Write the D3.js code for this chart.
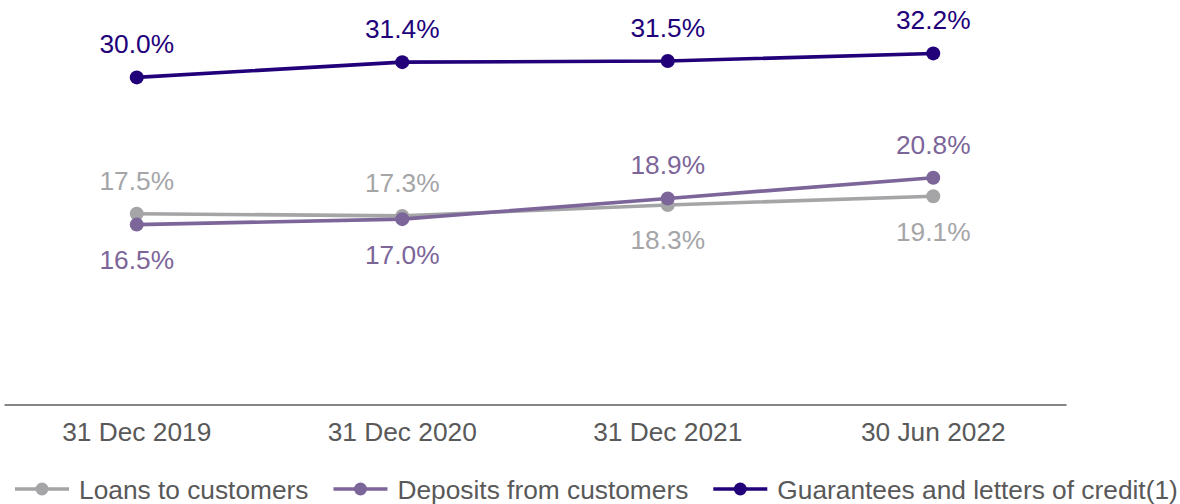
<!DOCTYPE html>
<html>
<head>
<meta charset="utf-8">
<script src="https://cdn.jsdelivr.net/npm/d3@7"></script>
<style>
  html, body { margin: 0; padding: 0; background: #ffffff; }
  svg { display: block; font-family: "Liberation Sans", Arial, sans-serif; }
</style>
</head>
<body>
<svg id="chart" width="1180" height="504"></svg>
<script>
const categories = ["31 Dec 2019", "31 Dec 2020", "31 Dec 2021", "30 Jun 2022"];
const seriesNames = ["Loans to customers", "Deposits from customers", "Guarantees and letters of credit(1)"];
const loans = [17.5, 17.3, 18.3, 19.1];
const deposits = [16.5, 17.0, 18.9, 20.8];
const guarantees = [30.0, 31.4, 31.5, 32.2];
const seriesColors = ["#a5a5a8", "#7c6599", "#21007a"];

const series = [loans, deposits, guarantees].map((vals, i) => ({
  name: seriesNames[i], color: seriesColors[i], values: vals
}));

const svg = d3.select("#chart");
const FS = "26.3px";

const x = d3.scaleBand().domain(categories).range([4, 1066]).padding(0);
const y = d3.scaleLinear().domain([0, 37.1]).range([404.5, 0]);
const cx = c => x(c) + x.bandwidth() / 2;

// axis
const axis = d3.axisBottom(x).tickSize(0).tickPadding(17.5);
const gAxis = svg.append("g").attr("transform", `translate(0,${y(0)})`).call(axis);
gAxis.select(".domain").attr("stroke", "#858585").attr("stroke-width", 2);
gAxis.selectAll("text")
  .attr("fill", "#595959")
  .style("font-size", FS)
  .style("font-family", "'Liberation Sans', Arial, sans-serif");

const line = d3.line().x(d => cx(d.cat)).y(d => y(d.v));

series.forEach((s) => {
  const pts = s.values.map((v, j) => ({ cat: categories[j], v, j }));
  svg.append("path").datum(pts)
    .attr("d", line)
    .attr("fill", "none")
    .attr("stroke", s.color)
    .attr("stroke-width", 3.6);
});

series.forEach((s) => {
  const pts = s.values.map((v, j) => ({ cat: categories[j], v, j }));
  svg.selectAll(null).data(pts).enter().append("circle")
    .attr("cx", d => cx(d.cat))
    .attr("cy", d => y(d.v))
    .attr("r", 7)
    .attr("fill", s.color);
  svg.selectAll(null).data(pts).enter().append("text")
    .attr("x", d => cx(d.cat))
    .attr("y", d => {
      const others = series.map(o => o.values[d.j]);
      const isMin = d.v <= d3.min(others);
      return isMin ? y(d.v) + 44.5 : y(d.v) - 24;
    })
    .attr("text-anchor", "middle")
    .attr("fill", s.color)
    .style("font-size", FS)
    .text(d => d.v.toFixed(1) + "%");
});

// legend
const legend = svg.append("g").attr("transform", "translate(0,489)");
let lx = 15;
series.forEach((s) => {
  const g = legend.append("g").attr("transform", `translate(${lx},0)`);
  g.append("line").attr("x1", 0).attr("x2", 54).attr("y1", 0).attr("y2", 0)
    .attr("stroke", s.color).attr("stroke-width", 3.6);
  g.append("circle").attr("cx", 27).attr("cy", 0).attr("r", 6.5).attr("fill", s.color);
  const t = g.append("text").attr("x", 64).attr("y", 9.5)
    .attr("fill", "#595959").style("font-size", FS).text(s.name);
  const w = t.node().getComputedTextLength();
  lx += 64 + w + 25;
});
</script>
</body>
</html>
